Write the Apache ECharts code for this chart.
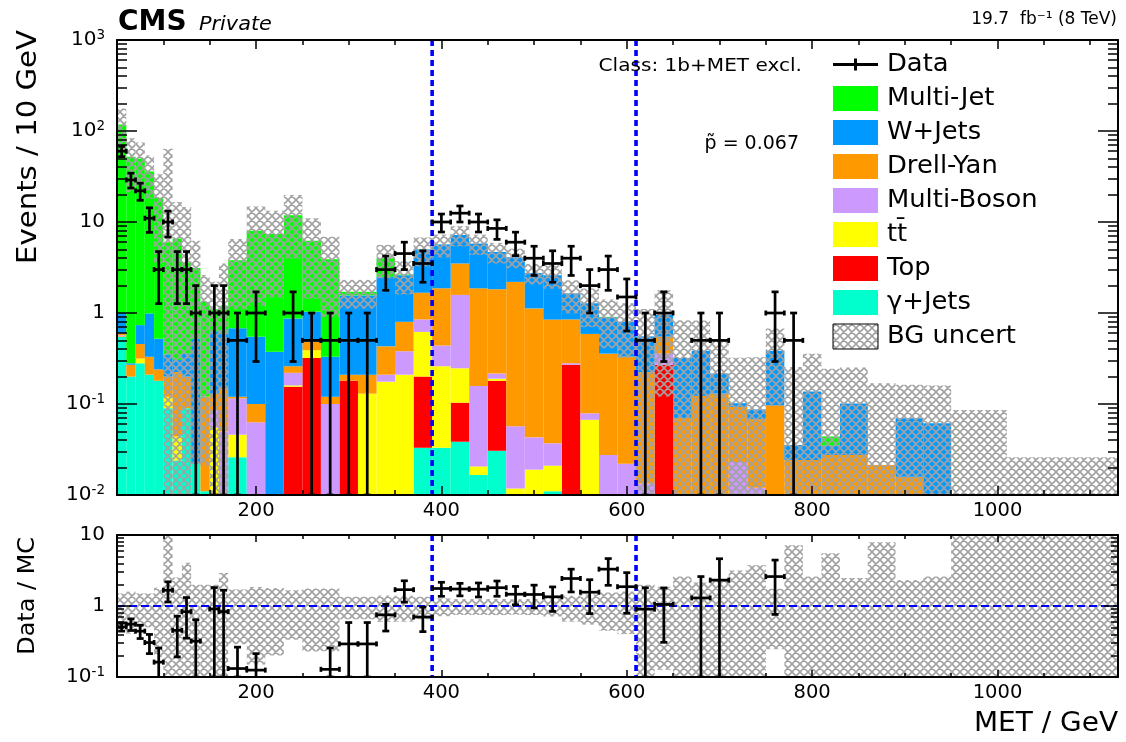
<!DOCTYPE html>
<html><head><meta charset="utf-8">
<script src="https://cdn.jsdelivr.net/npm/echarts@6/dist/echarts.min.js"></script>
<style>html,body{margin:0;padding:0;background:#fff}#c{width:1126px;height:742px}</style>
</head><body><div id="c"></div>
<script>
// ---------------- data ----------------
const binEdges = [50,60,70,80,90,100,110,120,130,140,150,160,170,190,210,230,250,270,290,310,330,350,370,390,410,430,450,470,490,510,530,550,570,590,610,630,650,670,690,710,730,750,770,790,810,830,860,890,920,950,1010,1130];
// events / 10 GeV per background component (stack order bottom -> top)
const gammaJets  = [0.55,0.2,0.28,0.21,0.18,0.09,0.024,0.09,0.022,0.011,0,0,0.026,0,0,0,0,0,0,0,0,0,0.033,0.033,0.0385,0.0166,0.0307,0,0,0.011,0,0,0,0,0,0,0,0,0,0,0,0,0,0,0,0,0,0,0,0,0];
const topQuark   = [0.005,0,0,0,0,0,0,0,0,0,0,0,0,0,0,0.155,0.32,0,0.18,0,0,0,0.167,0,0.065,0,0.149,0,0,0,0.27,0,0,0,0,0.27,0,0,0,0,0,0,0,0,0,0,0,0,0,0,0];
const ttbar      = [0.005,0,0.036,0,0,0.03,0.02,0,0,0,0.055,0,0.02,0,0,0.005,0.07,0,0,0.13,0.176,0.21,0.42,0.227,0.1435,0.004,0.01,0.0118,0.019,0.01,0,0.067,0,0,0,0,0,0,0,0,0,0,0,0,0,0,0,0,0,0,0];
const multiBoson = [0.01,0,0,0,0,0,0,0,0,0,0.03,0.05,0.069,0.063,0,0.06,0,0.1,0,0,0.034,0.17,0.23,0.18,1.333,0.1375,0.026,0.045,0.024,0.016,0.01,0.012,0.0275,0.022,0.0134,0.09,0,0,0,0.023,0.012,0,0,0,0,0,0,0,0,0,0];
const drellYan   = [0.03,0.07,0.14,0.12,0.06,0.08,0.18,0.11,0,0.11,0.045,0.1,0.005,0.037,0,0.04,0.09,0.02,0.03,0.08,0.22,0.42,0.82,1.43,1.92,1.71,1.61,2.14,1.08,0.81,0.57,0.51,0.33,0.31,0.21,0.19,0.07,0.123,0.13,0.07,0.056,0.097,0.0243,0.0243,0.0275,0.0275,0.0214,0.0159,0,0,0];
const wJets      = [0.4,0.01,0.28,0.66,0.28,0.15,0.08,0.16,0.5,0,0.5,0.45,0.56,0.45,0.376,0.61,0.55,0.21,1.35,1.35,2.07,1.8,3.33,3.8,3.7,3.93,2.87,1.9,1.63,1.75,0.79,0.69,0.54,0.47,0.33,0.4,0.25,0.262,0.086,0.009,0.019,0.288,0.0112,0.113,0.0075,0.074,0,0.054,0.0613,0,0];
const multiJet   = [117,52,49,35,18,5.65,6.3,3.24,2.6,1.2,0.47,0.6,3.12,7.45,7.0,11.0,5.2,3.57,0.15,0.15,1.5,0.05,0,0,0,0,0,0,0,0,0,0,0.01,0,0,0,0,0,0,0,0,0,0,0,0.009,0,0,0,0,0,0];
// absolute background uncertainty (events / 10 GeV)
const bgUncertainty = [59,31,25,18,15,58,10,11,3.1,1.3,1.1,2.3,2.7,6.8,5.9,7.9,4.8,3.0,0.6,0.6,1.6,1.05,1.75,1.6,1.8,1.45,1.2,1.0,0.7,0.75,0.65,0.58,0.5,0.48,0.55,0.83,0.51,0.44,0.28,0.22,0.24,0.29,0.22,0.22,0.2,0.15,0.148,0.093,0.098,0.086,0.026];
// observed data, events / 10 GeV
const dataValues = [60,29,22,11,3,10,3,3,1,0,1,1,0.5,1,0,1,0.5,0.5,0.5,0.5,3,4.5,3.5,10,12.5,10,8.5,6,4,3.5,4,2,3,1.5,0.5,1,0,0.5,0.5,0,0,1,0.5,0,0,0,0,0,0,0,0];
const signalRegion = [390, 610];
const xMajorTicks = [200,400,600,800,1000];
const xMinorTicks = [100,150,250,300,350,450,500,550,650,700,750,850,900,950,1050,1100];
const topYMajor = [0.01,0.1,1,10,100,1000];
const ratioYMajor = [0.1,1,10];
const seriesNames = ['γ+Jets','Top','tt̄','Multi-Boson','Drell-Yan','W+Jets','Multi-Jet'];
const seriesColors = ['#00ffcc','#ff0000','#ffff00','#cc99ff','#ff9900','#0099ff','#00ff00'];
const seriesValues = [gammaJets, topQuark, ttbar, multiBoson, drellYan, wJets, multiJet];

// ---------------- derived ----------------
const FONT = '"DejaVu Sans", sans-serif';
const nBins = binEdges.length - 1;
const FLOOR = 1e-5;
function minorLog(lo, hi){ const out=[]; for(let e=lo;e<hi;e++){ for(let m=2;m<=9;m++){ out.push(parseFloat((m*Math.pow(10,e)).toPrecision(3))); } } return out; }

const cum = new Array(nBins).fill(0);
const stackSeriesData = seriesValues.map(vals => {
  const items = [];
  for (let i=0;i<nBins;i++){
    const v = vals[i];
    if (v > 0){ items.push([binEdges[i], binEdges[i+1], Math.max(cum[i], FLOOR), cum[i]+v]); cum[i] += v; }
  }
  return items;
});
const total = cum.slice();
const hatchTop = [], hatchRatio = [], dataTop = [], dataRatio = [];
for (let i=0;i<nBins;i++){
  const x0 = binEdges[i], x1 = binEdges[i+1], err = bgUncertainty[i], t = total[i];
  if (err > 0) hatchTop.push([x0, x1, Math.max(t-err, FLOOR), t+err]);
  if (t > 0) { const r = err/t; hatchRatio.push([x0, x1, Math.max(1-r, FLOOR), 1+r]); }
  else hatchRatio.push([x0, x1, FLOOR, 1000]);
  const d = dataValues[i];
  if (d > 0){
    const w = x1-x0, n = d*w/10, e = Math.sqrt(n)*10/w;
    dataTop.push([x0, x1, d, d-e, d+e]);
    if (t > 0) dataRatio.push([x0, x1, d/t, (d-e)/t, (d+e)/t]);
  }
}

function hatchCanvas(){
  const s = 8, c = document.createElement('canvas'); c.width = s; c.height = s;
  const g = c.getContext('2d'); g.strokeStyle = '#a2a2a2'; g.lineWidth = 1.6;
  g.beginPath();
  for (const o of [-s,0,s]){ g.moveTo(o,0); g.lineTo(o+s,s); g.moveTo(o+s,0); g.lineTo(o,s); }
  g.stroke(); return c;
}
const HATCH = {image: hatchCanvas(), repeat: 'repeat'};

function rectRender(fill){
  return function(params, api){
    const p0 = api.coord([api.value(0), api.value(3)]);
    const p1 = api.coord([api.value(1), api.value(2)]);
    return {type:'rect', shape:{x:p0[0], y:p0[1], width:p1[0]-p0[0], height:p1[1]-p0[1]}, style:{fill: fill, stroke: null}};
  };
}
function errRender(params, api){
  const cs = params.coordSys, top = cs.y, bot = cs.y + cs.height;
  const x0 = api.value(0), x1 = api.value(1), y = api.value(2), lo = api.value(3), hi = api.value(4);
  const xc = (x0+x1)/2;
  const pc = api.coord([xc, y]);
  if (!(pc[1] >= top - 0.5 && pc[1] <= bot + 0.5)) return null;
  const pl = api.coord([x0, y]), pr = api.coord([x1, y]);
  let yh = api.coord([xc, hi])[1], yl = lo > 0 ? api.coord([xc, lo])[1] : bot;
  const capH = yh >= top, capL = yl <= bot;
  yh = Math.max(yh, top); yl = Math.min(yl, bot);
  const st = {stroke:'#000', lineWidth:2.7};
  const ch = [
    {type:'line', shape:{x1:pl[0], y1:pc[1], x2:pr[0], y2:pc[1]}, style:st},
    {type:'line', shape:{x1:pc[0], y1:yh, x2:pc[0], y2:yl}, style:st},
    {type:'line', shape:{x1:pl[0], y1:pc[1]-2.5, x2:pl[0], y2:pc[1]+2.5}, style:st},
    {type:'line', shape:{x1:pr[0], y1:pc[1]-2.5, x2:pr[0], y2:pc[1]+2.5}, style:st}
  ];
  if (capH) ch.push({type:'line', shape:{x1:pc[0]-3.5, y1:yh, x2:pc[0]+3.5, y2:yh}, style:st});
  if (capL) ch.push({type:'line', shape:{x1:pc[0]-3.5, y1:yl, x2:pc[0]+3.5, y2:yl}, style:st});
  return {type:'group', children: ch};
}
function vlineRender(params, api){
  const cs = params.coordSys, x = api.coord([api.value(0), 1])[0];
  return {type:'line', shape:{x1:x, y1:cs.y, x2:x, y2:cs.y+cs.height}, style:{stroke:'#0000ff', lineWidth:3.6, lineDash:[6,4]}};
}
function hlineRender(params, api){
  const cs = params.coordSys, y = api.coord([500, api.value(0)])[1];
  return {type:'line', shape:{x1:cs.x, y1:y, x2:cs.x+cs.width, y2:y}, style:{stroke:'#0000ff', lineWidth:2.2, lineDash:[8,4]}};
}

function logLabel(v){
  const e = Math.round(Math.log10(v));
  if (e === 0) return '{b|1}';
  if (e === 1) return '{b|10}';
  return '{b|10}{s|' + e + '}';
}
const richY = {b:{fontFamily:FONT, fontSize:20, color:'#000'}, s:{fontFamily:FONT, fontSize:13.5, color:'#000', verticalAlign:'top', padding:[0,0,9,0]}};

function xAxes(grid, majorLen, minorLen){
  const base = {type:'value', gridIndex:grid, min:50, max:1130, z:10, splitLine:{show:false}};
  return [
    Object.assign({}, base, {position:'bottom', axisLine:{show:true, onZero:false, lineStyle:{color:'#000', width:2}},
      axisTick:{show:true, inside:true, length:majorLen, customValues:xMajorTicks, lineStyle:{color:'#000', width:1.5}},
      axisLabel:{show:true, customValues:xMajorTicks, formatter:(v)=>String(v), fontFamily:FONT, fontSize:19.5, color:'#000', margin:6}}),
    Object.assign({}, base, {position:'bottom', axisLine:{show:false, onZero:false},
      axisTick:{show:true, inside:true, length:minorLen, customValues:xMinorTicks, lineStyle:{color:'#000', width:1.5}}, axisLabel:{show:false}}),
    Object.assign({}, base, {position:'top', axisLine:{show:true, onZero:false, lineStyle:{color:'#000', width:2}},
      axisTick:{show:true, inside:true, length:majorLen, customValues:xMajorTicks, lineStyle:{color:'#000', width:1.5}}, axisLabel:{show:false}}),
    Object.assign({}, base, {position:'top', axisLine:{show:false, onZero:false},
      axisTick:{show:true, inside:true, length:minorLen, customValues:xMinorTicks, lineStyle:{color:'#000', width:1.5}}, axisLabel:{show:false}})
  ];
}
function yAxes(grid, mn, mx, major, minor, majorLen, minorLen){
  const base = {type:'log', logBase:10, gridIndex:grid, min:mn, max:mx, z:10, splitLine:{show:false}};
  return [
    Object.assign({}, base, {position:'left', axisLine:{show:true, onZero:false, lineStyle:{color:'#000', width:2}},
      axisTick:{show:true, inside:true, length:majorLen, customValues:major, lineStyle:{color:'#000', width:1.5}},
      axisLabel:{show:true, customValues:major, formatter:logLabel, rich:richY, margin:12}}),
    Object.assign({}, base, {position:'left', axisLine:{show:false, onZero:false},
      axisTick:{show:true, inside:true, length:minorLen, customValues:minor, lineStyle:{color:'#000', width:1.5}}, axisLabel:{show:false}}),
    Object.assign({}, base, {position:'right', axisLine:{show:true, onZero:false, lineStyle:{color:'#000', width:2}},
      axisTick:{show:true, inside:true, length:majorLen, customValues:major, lineStyle:{color:'#000', width:1.5}}, axisLabel:{show:false}}),
    Object.assign({}, base, {position:'right', axisLine:{show:false, onZero:false},
      axisTick:{show:true, inside:true, length:minorLen, customValues:minor, lineStyle:{color:'#000', width:1.5}}, axisLabel:{show:false}})
  ];
}

const series = [];
stackSeriesData.forEach((items, k) => {
  series.push({type:'custom', name:seriesNames[k], coordinateSystem:'cartesian2d', xAxisIndex:0, yAxisIndex:0, clip:true, z:2,
    renderItem: rectRender(seriesColors[k]), encode:{x:[0,1], y:[2,3]}, data: items, silent:true, animation:false});
});
series.push({type:'custom', name:'BG uncert', coordinateSystem:'cartesian2d', xAxisIndex:0, yAxisIndex:0, clip:true, z:3,
  renderItem: rectRender(HATCH), encode:{x:[0,1], y:[2,3]}, data: hatchTop, silent:true, animation:false});
series.push({type:'custom', coordinateSystem:'cartesian2d', xAxisIndex:0, yAxisIndex:0, clip:true, z:4,
  renderItem: vlineRender, encode:{x:0}, data: signalRegion.map(v=>[v]), silent:true, animation:false});
series.push({type:'custom', name:'Data', coordinateSystem:'cartesian2d', xAxisIndex:0, yAxisIndex:0, clip:true, z:5,
  renderItem: errRender, encode:{x:[0,1], y:[2]}, data: dataTop, silent:true, animation:false});
// ratio panel
series.push({type:'custom', coordinateSystem:'cartesian2d', xAxisIndex:4, yAxisIndex:4, clip:true, z:3,
  renderItem: rectRender(HATCH), encode:{x:[0,1], y:[2,3]}, data: hatchRatio, silent:true, animation:false});
series.push({type:'custom', coordinateSystem:'cartesian2d', xAxisIndex:4, yAxisIndex:4, clip:true, z:4,
  renderItem: hlineRender, encode:{y:0}, data: [[1]], silent:true, animation:false});
series.push({type:'custom', coordinateSystem:'cartesian2d', xAxisIndex:4, yAxisIndex:4, clip:true, z:4,
  renderItem: vlineRender, encode:{x:0}, data: signalRegion.map(v=>[v]), silent:true, animation:false});
series.push({type:'custom', coordinateSystem:'cartesian2d', xAxisIndex:4, yAxisIndex:4, clip:true, z:5,
  renderItem: errRender, encode:{x:[0,1], y:[2]}, data: dataRatio, silent:true, animation:false});

// legend (ROOT style) built from the series names/colours
const legendEntries = [{name:'Data', kind:'data'}];
for (let k=seriesNames.length-1;k>=0;k--) legendEntries.push({name:seriesNames[k], kind:'box', color:seriesColors[k]});
legendEntries.push({name:'BG uncert', kind:'hatch'});
const legendGraphics = [];
legendEntries.forEach((en, i) => {
  const cy = 64.5 + 34*i;
  if (en.kind === 'data'){
    legendGraphics.push({type:'line', shape:{x1:833, y1:cy, x2:878, y2:cy}, style:{stroke:'#000', lineWidth:3}});
    legendGraphics.push({type:'line', shape:{x1:855.5, y1:cy-6, x2:855.5, y2:cy+6}, style:{stroke:'#000', lineWidth:3}});
  } else if (en.kind === 'box'){
    legendGraphics.push({type:'rect', shape:{x:833, y:cy-12.5, width:45, height:25}, style:{fill:en.color}});
  } else {
    legendGraphics.push({type:'rect', shape:{x:833, y:cy-12.5, width:45, height:25}, style:{fill:HATCH, stroke:'#000', lineWidth:1}});
  }
  legendGraphics.push({type:'text', x:887, y:cy, scaleX:1.075, style:{text:en.name, fontFamily:FONT, fontSize:24, fill:'#000', textAlign:'left', textVerticalAlign:'middle'}});
});

const texts = [
  {type:'text', x:118, y:22.5, style:{text:'CMS', fontFamily:FONT, fontWeight:'bold', fontSize:28, fill:'#000', textAlign:'left', textVerticalAlign:'middle'}},
  {type:'text', x:199, y:24.5, scaleX:1.04, style:{text:'Private', fontFamily:FONT, fontStyle:'italic', fontSize:20, fill:'#000', textAlign:'left', textVerticalAlign:'middle'}},
  {type:'text', x:1117, y:20, style:{text:'19.7  fb⁻¹ (8 TeV)', fontFamily:FONT, fontSize:17, fill:'#000', textAlign:'right', textVerticalAlign:'middle'}},
  {type:'text', x:802, y:66, scaleX:1.115, style:{text:'Class: 1b+MET excl.', fontFamily:FONT, fontSize:18, fill:'#000', textAlign:'right', textVerticalAlign:'middle'}},
  {type:'text', x:799, y:144, style:{text:'p̃ = 0.067', fontFamily:FONT, fontSize:19, fill:'#000', textAlign:'right', textVerticalAlign:'middle'}},
  {type:'text', x:29, y:30, rotation:Math.PI/2, scaleX:1.08, style:{text:'Events / 10 GeV', fontFamily:FONT, fontSize:27, fill:'#000', textAlign:'right', textVerticalAlign:'middle'}},
  {type:'text', x:28, y:537, rotation:Math.PI/2, scaleX:1.04, style:{text:'Data / MC', fontFamily:FONT, fontSize:23, fill:'#000', textAlign:'right', textVerticalAlign:'middle'}},
  {type:'text', x:1118, y:724, scaleX:1.075, style:{text:'MET / GeV', fontFamily:FONT, fontSize:26, fill:'#000', textAlign:'right', textVerticalAlign:'middle'}}
];

const option = {
  animation:false,
  backgroundColor:'#fff',
  grid:[{left:117, top:40, width:1001, height:455, show:false}, {left:117, top:535, width:1001, height:142, show:false}],
  xAxis: xAxes(0, 9, 5).concat(xAxes(1, 7, 4)),
  yAxis: yAxes(0, 0.01, 1000, topYMajor, minorLog(-2,3), 20, 10).concat(yAxes(1, 0.1, 10, ratioYMajor, minorLog(-1,1), 14, 7)),
  series: series,
  graphic: {elements: legendGraphics.concat(texts).map(g => Object.assign({z:100, silent:true}, g))}
};
const chart = echarts.init(document.getElementById('c'), null, {renderer:'canvas', width:1126, height:742});
chart.setOption(option);
</script></body></html>
